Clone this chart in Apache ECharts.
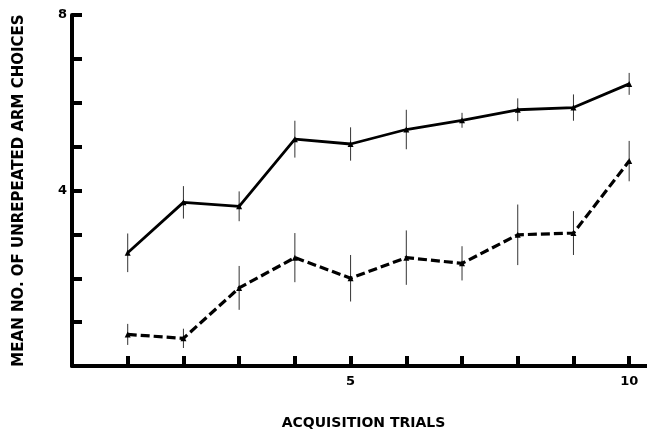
<!DOCTYPE html>
<html>
<head>
<meta charset="utf-8">
<script src="https://cdn.jsdelivr.net/npm/echarts@6/dist/echarts.min.js"></script>
<style>html,body{margin:0;padding:0;background:#fff;overflow:hidden}#c{width:647px;height:435px}</style>
</head>
<body>
<div id="c"></div>
<script>
var trials = [1, 2, 3, 4, 5, 6, 7, 8, 9, 10];
var solidMean = [2.58, 3.73, 3.64, 5.17, 5.06, 5.39, 5.60, 5.84, 5.89, 6.43];
var solidErr = [0.44, 0.37, 0.34, 0.42, 0.38, 0.45, 0.17, 0.26, 0.30, 0.25];
var dashedMean = [0.72, 0.63, 1.78, 2.47, 2.00, 2.47, 2.34, 2.99, 3.03, 4.67];
var dashedErr = [0.24, 0.22, 0.50, 0.56, 0.53, 0.62, 0.39, 0.69, 0.50, 0.46];
var xLabels = [5, 10];
var yTicks = [1, 2, 3, 4, 5, 6, 7, 8];
var yLabels = [4, 8];

function pairs(xs, ys) { return xs.map(function (x, i) { return [x, ys[i]]; }); }
function bars(xs, m, e) { return xs.map(function (x, i) { return [x, m[i] - e[i], m[i] + e[i]]; }); }

function errRender(params, api) {
  var p1 = api.coord([api.value(0), api.value(1)]);
  var p2 = api.coord([api.value(0), api.value(2)]);
  return { type: 'line', shape: { x1: p1[0], y1: p1[1], x2: p2[0], y2: p2[1] },
           style: { stroke: '#333', lineWidth: 1 } };
}

var font = 'DejaVu Sans';
var chart = echarts.init(document.getElementById('c'));
chart.setOption({
  animation: false,
  backgroundColor: '#fff',
  grid: { left: 72, right: 0, top: 15, bottom: 64, containLabel: false },
  xAxis: {
    type: 'value', min: 0, max: 10.32, interval: 1,
    name: 'ACQUISITION TRIALS', nameLocation: 'middle', nameGap: 50,
    nameTextStyle: { fontFamily: font, fontWeight: 'bold', fontSize: 14, color: '#000', padding: [0, 0, 0, 8] },
    axisLine: { show: true, onZero: false, lineStyle: { color: '#000', width: 4 } },
    axisTick: { show: true, inside: true, length: 10, customValues: trials, lineStyle: { color: '#000', width: 4 } },
    axisLabel: { margin: 9, fontFamily: font, fontWeight: 'bold', fontSize: 13, color: '#000', customValues: xLabels },
    splitLine: { show: false }
  },
  yAxis: {
    type: 'value', min: 0, max: 8, interval: 1,
    name: 'MEAN NO. OF UNREPEATED ARM CHOICES', nameLocation: 'middle', nameGap: 45,
    nameTextStyle: { fontFamily: font, fontWeight: 'bold', fontSize: 15, color: '#000' },
    axisLine: { show: true, onZero: false, lineStyle: { color: '#000', width: 4 } },
    axisTick: { show: true, inside: true, length: 10, customValues: yTicks, lineStyle: { color: '#000', width: 4 } },
    axisLabel: { margin: 5, fontFamily: font, fontWeight: 'bold', fontSize: 13, color: '#000', customValues: yLabels },
    splitLine: { show: false }
  },
  series: [
    { type: 'custom', renderItem: errRender, data: bars(trials, solidMean, solidErr), encode: { x: 0, y: [1, 2] }, z: 1 },
    { type: 'custom', renderItem: errRender, data: bars(trials, dashedMean, dashedErr), encode: { x: 0, y: [1, 2] }, z: 1 },
    { type: 'line', data: pairs(trials, solidMean), symbol: 'triangle', symbolSize: 6,
      itemStyle: { color: '#000' }, lineStyle: { color: '#000', width: 2.8, type: 'solid' }, z: 2 },
    { type: 'line', data: pairs(trials, dashedMean), symbol: 'triangle', symbolSize: 6,
      itemStyle: { color: '#000' }, lineStyle: { color: '#000', width: 3.2, type: [9, 4] }, z: 2 }
  ]
});
</script>
</body>
</html>
